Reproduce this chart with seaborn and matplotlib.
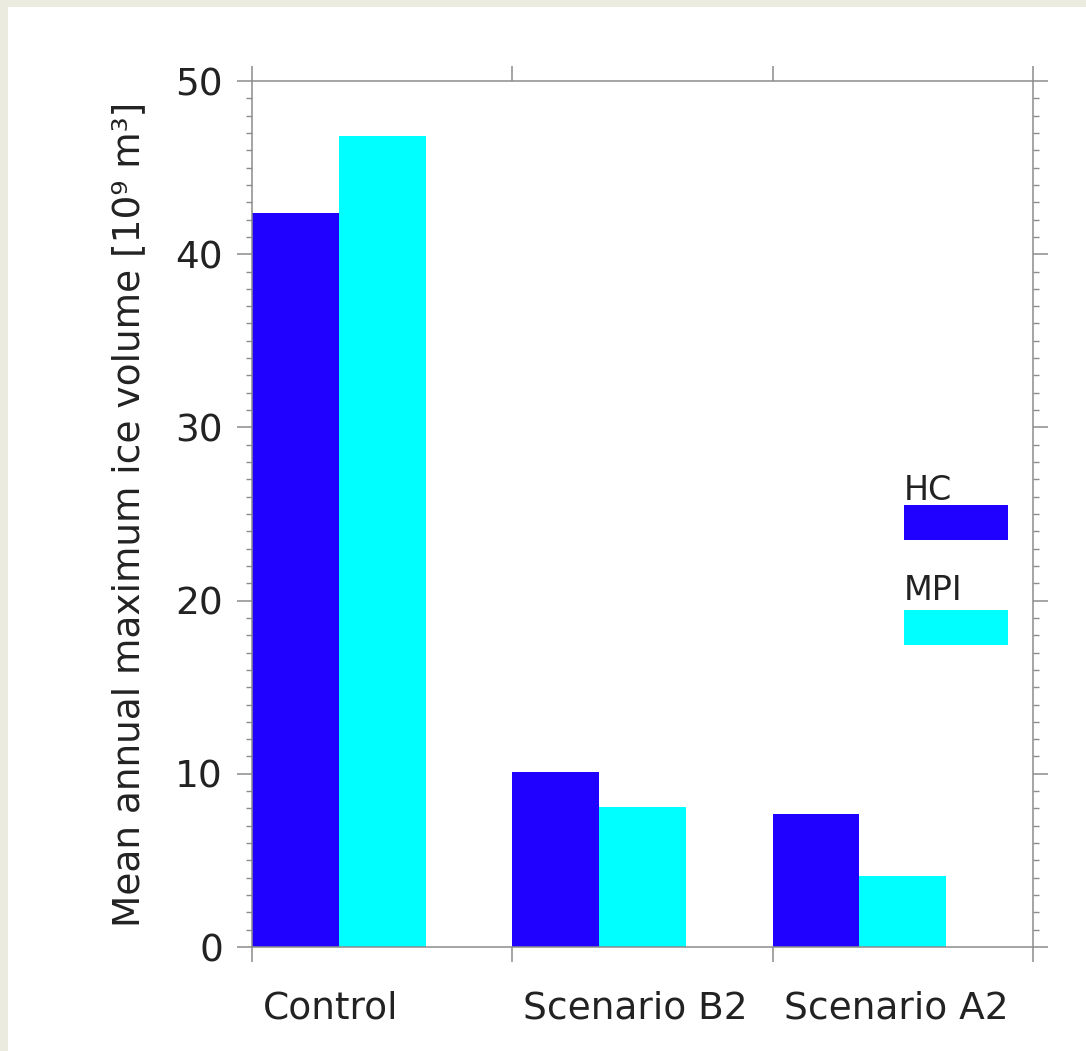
import matplotlib
matplotlib.use("Agg")
import matplotlib.pyplot as plt
from matplotlib.patches import Rectangle
from matplotlib.ticker import MultipleLocator
import pandas as pd
import seaborn as sns

# Data
categories = ["Control", "Scenario B2", "Scenario A2"]
models = ["HC", "MPI"]
hc_volume = [42.4, 10.1, 7.7]
mpi_volume = [46.8, 8.1, 4.1]
colors = {"HC": "#2000ff", "MPI": "#00ffff"}
ylabel = "Mean annual maximum ice volume [10\u2079 m\u00b3]"

df = pd.DataFrame({
    "scenario": categories * 2,
    "model": ["HC"] * 3 + ["MPI"] * 3,
    "volume": hc_volume + mpi_volume,
})

sns.set_style("ticks")
plt.rcParams["font.family"] = ["DejaVu Sans"]

W, H = 1086, 1051
fig = plt.figure(figsize=(W / 100, H / 100), dpi=100, facecolor="#ecebe0")
fig.patches.append(Rectangle((8 / W, 0), 1 - 8 / W, 1 - 7 / H, transform=fig.transFigure,
                             facecolor="white", edgecolor="none", zorder=-10))

ax = fig.add_axes([252 / W, 1 - 947 / H, 781 / W, 866 / H])
ax.set_facecolor("white")

sns.barplot(data=df, x="scenario", y="volume", hue="model", order=categories,
            hue_order=models, palette=colors, width=2 / 3, gap=0, linewidth=0,
            saturation=1, legend=False, ax=ax)

grey = "#8c8c8c"
text_col = "#222222"
ax.set_xlim(-1 / 3, len(categories) - 1 / 3)
ax.set_ylim(0, 50)

# Frame and ticks
for s in ax.spines.values():
    s.set_color(grey)
    s.set_linewidth(1.1)
    s.set_visible(True)

ax.set_xticks([i - 1 / 3 for i in range(len(categories) + 1)])
ax.set_xticklabels([])
ax.set_xticks([i - 1 / 3 + 0.042 for i in range(len(categories))], minor=True)
ax.set_xticklabels(categories, minor=True, ha="left", fontsize=27, color=text_col)
ax.tick_params(axis="x", which="major", direction="out", length=10.8, width=1.1,
               color=grey, top=True, bottom=True)
ax.tick_params(axis="x", which="minor", length=0, pad=31)

ax.yaxis.set_major_locator(MultipleLocator(10))
ax.yaxis.set_minor_locator(MultipleLocator(1))
ax.tick_params(axis="y", which="major", direction="out", length=10.8, width=1.1,
               color=grey, left=True, right=True, labelsize=27, labelcolor=text_col, pad=10)
ax.tick_params(axis="y", which="minor", direction="out", length=4.3, width=1.0,
               color=grey, left=True, right=True)

ax.set_xlabel("")
ax.set_ylabel(ylabel, fontsize=27, color=text_col, labelpad=20)

# Legend: label above colour swatch
legend_y = {"HC": (0.5162, 0.470), "MPI": (0.4007, 0.349)}
for m in models:
    ty, py = legend_y[m]
    ax.text(0.835, ty, m, transform=ax.transAxes, fontsize=24, color=text_col,
            ha="left", va="baseline")
    ax.add_patch(Rectangle((0.835, py), 0.133, 0.040, transform=ax.transAxes,
                           facecolor=colors[m], edgecolor="none", clip_on=False))

fig.savefig("out.png", dpi=100, facecolor=fig.get_facecolor())
